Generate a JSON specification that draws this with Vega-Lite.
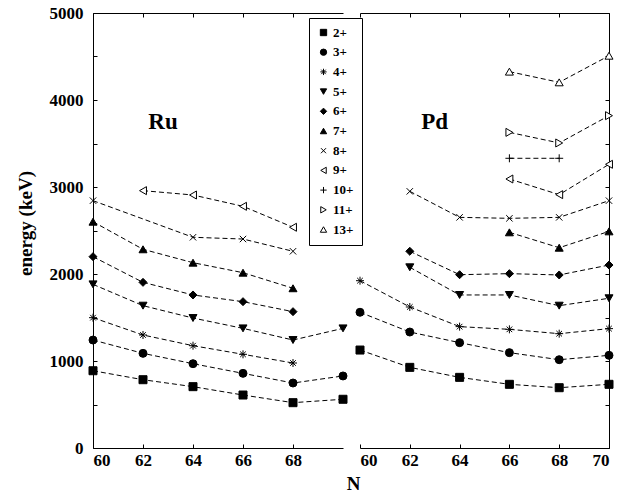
{
  "$schema": "https://vega.github.io/schema/vega-lite/v6.json",
  "padding": {"left": 16, "top": 4, "right": 5, "bottom": 5},
  "background": "white",
  "datasets": {
    "ru": [
      {"N": 60, "spin": "2+", "E": 888}, {"N": 62, "spin": "2+", "E": 785}, {"N": 64, "spin": "2+", "E": 705}, {"N": 66, "spin": "2+", "E": 609}, {"N": 68, "spin": "2+", "E": 521}, {"N": 70, "spin": "2+", "E": 560},
      {"N": 60, "spin": "3+", "E": 1241}, {"N": 62, "spin": "3+", "E": 1088}, {"N": 64, "spin": "3+", "E": 969}, {"N": 66, "spin": "3+", "E": 858}, {"N": 68, "spin": "3+", "E": 747}, {"N": 70, "spin": "3+", "E": 828},
      {"N": 60, "spin": "4+", "E": 1498}, {"N": 62, "spin": "4+", "E": 1299}, {"N": 64, "spin": "4+", "E": 1176}, {"N": 66, "spin": "4+", "E": 1077}, {"N": 68, "spin": "4+", "E": 977},
      {"N": 60, "spin": "5+", "E": 1881}, {"N": 62, "spin": "5+", "E": 1636}, {"N": 64, "spin": "5+", "E": 1494}, {"N": 66, "spin": "5+", "E": 1375}, {"N": 68, "spin": "5+", "E": 1241}, {"N": 70, "spin": "5+", "E": 1375},
      {"N": 60, "spin": "6+", "E": 2199}, {"N": 62, "spin": "6+", "E": 1904}, {"N": 64, "spin": "6+", "E": 1759}, {"N": 66, "spin": "6+", "E": 1682}, {"N": 68, "spin": "6+", "E": 1567},
      {"N": 60, "spin": "7+", "E": 2601}, {"N": 62, "spin": "7+", "E": 2284}, {"N": 64, "spin": "7+", "E": 2130}, {"N": 66, "spin": "7+", "E": 2015}, {"N": 68, "spin": "7+", "E": 1836},
      {"N": 60, "spin": "8+", "E": 2843}, {"N": 64, "spin": "8+", "E": 2422}, {"N": 66, "spin": "8+", "E": 2402}, {"N": 68, "spin": "8+", "E": 2261},
      {"N": 62, "spin": "9+", "E": 2958}, {"N": 64, "spin": "9+", "E": 2908}, {"N": 66, "spin": "9+", "E": 2778}, {"N": 68, "spin": "9+", "E": 2537}
    ],
    "pd": [
      {"N": 60, "spin": "2+", "E": 1126}, {"N": 62, "spin": "2+", "E": 927}, {"N": 64, "spin": "2+", "E": 812}, {"N": 66, "spin": "2+", "E": 732}, {"N": 68, "spin": "2+", "E": 693}, {"N": 70, "spin": "2+", "E": 732},
      {"N": 60, "spin": "3+", "E": 1560}, {"N": 62, "spin": "3+", "E": 1333}, {"N": 64, "spin": "3+", "E": 1211}, {"N": 66, "spin": "3+", "E": 1096}, {"N": 68, "spin": "3+", "E": 1015}, {"N": 70, "spin": "3+", "E": 1065},
      {"N": 60, "spin": "4+", "E": 1923}, {"N": 62, "spin": "4+", "E": 1621}, {"N": 64, "spin": "4+", "E": 1395}, {"N": 66, "spin": "4+", "E": 1364}, {"N": 68, "spin": "4+", "E": 1314}, {"N": 70, "spin": "4+", "E": 1372},
      {"N": 62, "spin": "5+", "E": 2077}, {"N": 64, "spin": "5+", "E": 1759}, {"N": 66, "spin": "5+", "E": 1759}, {"N": 68, "spin": "5+", "E": 1636}, {"N": 70, "spin": "5+", "E": 1721},
      {"N": 62, "spin": "6+", "E": 2261}, {"N": 64, "spin": "6+", "E": 1992}, {"N": 66, "spin": "6+", "E": 2004}, {"N": 68, "spin": "6+", "E": 1989}, {"N": 70, "spin": "6+", "E": 2103},
      {"N": 66, "spin": "7+", "E": 2479}, {"N": 68, "spin": "7+", "E": 2302}, {"N": 70, "spin": "7+", "E": 2490},
      {"N": 62, "spin": "8+", "E": 2950}, {"N": 64, "spin": "8+", "E": 2651}, {"N": 66, "spin": "8+", "E": 2640}, {"N": 68, "spin": "8+", "E": 2651}, {"N": 70, "spin": "8+", "E": 2843},
      {"N": 66, "spin": "9+", "E": 3092}, {"N": 68, "spin": "9+", "E": 2912}, {"N": 70, "spin": "9+", "E": 3261},
      {"N": 66, "spin": "10+", "E": 3330}, {"N": 68, "spin": "10+", "E": 3330},
      {"N": 66, "spin": "11+", "E": 3628}, {"N": 68, "spin": "11+", "E": 3506}, {"N": 70, "spin": "11+", "E": 3820},
      {"N": 66, "spin": "13+", "E": 4326}, {"N": 68, "spin": "13+", "E": 4203}, {"N": 70, "spin": "13+", "E": 4509}
    ]
  },
  "bounds": "flush",
  "spacing": 17,
  "resolve": {"legend": {"shape": "independent", "fill": "independent", "stroke": "independent"}},
  "hconcat": [
    {
      "width": 250,
      "height": 435,
      "resolve": {"axis": {"x": "independent", "y": "independent"}},
      "layer": [
        {
          "data": {"name": "ru"},
          "mark": {"type": "line", "color": "black", "strokeWidth": 1, "strokeDash": [5, 3]},
          "encoding": {
            "x": {"field": "N", "type": "quantitative", "scale": {"domain": [60, 70], "nice": false, "zero": false},
                  "axis": {"orient": "bottom", "values": [60, 62, 64, 66, 68], "format": "d", "title": null, "tickSize": -4, "labelPadding": 8}},
            "y": {"field": "E", "type": "quantitative", "scale": {"domain": [0, 5000], "nice": false},
                  "axis": {"orient": "left", "values": [0, 500, 1000, 1500, 2000, 2500, 3000, 3500, 4000, 4500, 5000], "format": "d",
                           "labelExpr": "datum.value % 1000 === 0 ? datum.label : ''", "title": "energy (keV)", "tickSize": -4, "labelPadding": 14, "titlePadding": 14, "titleY": 210}},
            "detail": {"field": "spin"}
          }
        },
        {
          "data": {"name": "ru"},
          "mark": {"type": "point", "filled": false, "strokeWidth": 1, "size": 64, "opacity": 1},
          "encoding": {
            "x": {"field": "N", "type": "quantitative", "scale": {"domain": [60, 70], "nice": false, "zero": false},
                  "axis": {"orient": "top", "values": [60, 62, 64, 66, 68], "labels": false, "title": null, "tickSize": -4}},
            "y": {"field": "E", "type": "quantitative", "scale": {"domain": [0, 5000], "nice": false}, "axis": null},
            "shape": {"field": "spin", "type": "nominal",
                      "scale": {"domain": ["2+", "3+", "4+", "5+", "6+", "7+", "8+", "9+", "10+", "11+", "13+"],
                                "range": ["square", "circle", "M-1,0L1,0M0,-1L0,1M-0.7,-0.7L0.7,0.7M-0.7,0.7L0.7,-0.7", "triangle-down", "diamond", "triangle-up", "M-0.8,-0.8L0.8,0.8M-0.8,0.8L0.8,-0.8", "triangle-left", "M-1,0L1,0M0,-1L0,1", "triangle-right", "triangle-up"]},
                      "legend": {"title": null, "orient": "none", "legendX": 216, "legendY": 5}},
            "fill": {"field": "spin", "type": "nominal",
                     "scale": {"domain": ["2+", "3+", "4+", "5+", "6+", "7+", "8+", "9+", "10+", "11+", "13+"],
                               "range": ["black", "black", "white", "black", "black", "black", "white", "white", "white", "white", "white"]},
                     "legend": {"title": null, "orient": "none", "legendX": 216, "legendY": 5}},
            "stroke": {"field": "spin", "type": "nominal",
                       "scale": {"domain": ["2+", "3+", "4+", "5+", "6+", "7+", "8+", "9+", "10+", "11+", "13+"],
                                 "range": ["black", "black", "black", "black", "black", "black", "black", "black", "black", "black", "black"]},
                       "legend": {"title": null, "orient": "none", "legendX": 216, "legendY": 5}}
          }
        },
        {
          "data": {"values": [{"N": 62.8, "E": 3750, "t": "Ru"}]},
          "mark": {"type": "text", "font": "Liberation Serif, Times New Roman, serif", "fontWeight": "bold", "fontSize": 23, "color": "black"},
          "encoding": {
            "x": {"field": "N", "type": "quantitative", "scale": {"domain": [60, 70], "nice": false, "zero": false}, "axis": null},
            "y": {"field": "E", "type": "quantitative", "scale": {"domain": [0, 5000], "nice": false}, "axis": null},
            "text": {"field": "t"}
          }
        }
      ]
    },
    {
      "width": 249,
      "height": 435,
      "resolve": {"axis": {"x": "independent", "y": "independent"}},
      "layer": [
        {
          "data": {"name": "pd"},
          "mark": {"type": "line", "color": "black", "strokeWidth": 1, "strokeDash": [5, 3]},
          "encoding": {
            "x": {"field": "N", "type": "quantitative", "scale": {"domain": [60, 70], "nice": false, "zero": false},
                  "axis": {"orient": "bottom", "values": [60, 62, 64, 66, 68, 70], "format": "d", "title": "N", "tickSize": -4, "labelPadding": 8, "titleX": -7, "titleY": 26}},
            "y": {"field": "E", "type": "quantitative", "scale": {"domain": [0, 5000], "nice": false},
                  "axis": {"orient": "right", "values": [0, 500, 1000, 1500, 2000, 2500, 3000, 3500, 4000, 4500, 5000], "labels": false, "title": null, "tickSize": -4}},
            "detail": {"field": "spin"}
          }
        },
        {
          "data": {"name": "pd"},
          "mark": {"type": "point", "filled": false, "strokeWidth": 1, "size": 64, "opacity": 1},
          "encoding": {
            "x": {"field": "N", "type": "quantitative", "scale": {"domain": [60, 70], "nice": false, "zero": false},
                  "axis": {"orient": "top", "values": [60, 62, 64, 66, 68, 70], "labels": false, "title": null, "tickSize": -4}},
            "y": {"field": "E", "type": "quantitative", "scale": {"domain": [0, 5000], "nice": false}, "axis": null},
            "shape": {"field": "spin", "type": "nominal",
                      "scale": {"domain": ["2+", "3+", "4+", "5+", "6+", "7+", "8+", "9+", "10+", "11+", "13+"],
                                "range": ["square", "circle", "M-1,0L1,0M0,-1L0,1M-0.7,-0.7L0.7,0.7M-0.7,0.7L0.7,-0.7", "triangle-down", "diamond", "triangle-up", "M-0.8,-0.8L0.8,0.8M-0.8,0.8L0.8,-0.8", "triangle-left", "M-1,0L1,0M0,-1L0,1", "triangle-right", "triangle-up"]},
                      "legend": null},
            "fill": {"field": "spin", "type": "nominal",
                     "scale": {"domain": ["2+", "3+", "4+", "5+", "6+", "7+", "8+", "9+", "10+", "11+", "13+"],
                               "range": ["black", "black", "white", "black", "black", "black", "white", "white", "white", "white", "white"]},
                     "legend": null},
            "stroke": {"field": "spin", "type": "nominal",
                       "scale": {"domain": ["2+", "3+", "4+", "5+", "6+", "7+", "8+", "9+", "10+", "11+", "13+"],
                                 "range": ["black", "black", "black", "black", "black", "black", "black", "black", "black", "black", "black"]},
                       "legend": null}
          }
        },
        {
          "data": {"values": [{"N": 63.0, "E": 3750, "t": "Pd"}]},
          "mark": {"type": "text", "font": "Liberation Serif, Times New Roman, serif", "fontWeight": "bold", "fontSize": 23, "color": "black"},
          "encoding": {
            "x": {"field": "N", "type": "quantitative", "scale": {"domain": [60, 70], "nice": false, "zero": false}, "axis": null},
            "y": {"field": "E", "type": "quantitative", "scale": {"domain": [0, 5000], "nice": false}, "axis": null},
            "text": {"field": "t"}
          }
        }
      ]
    }
  ],
  "config": {
    "view": {"stroke": null},
    "axis": {
      "grid": false,
      "domainColor": "black",
      "domainWidth": 1,
      "tickColor": "black",
      "tickWidth": 1,
      "labelColor": "black",
      "labelFont": "Liberation Serif, Times New Roman, serif",
      "labelFontWeight": "bold",
      "labelFontSize": 17,
      "titleColor": "black",
      "titleFont": "Liberation Serif, Times New Roman, serif",
      "titleFontWeight": "bold",
      "titleFontSize": 19
    },
    "legend": {
      "strokeColor": "black",
      "fillColor": "white",
      "cornerRadius": 0,
      "padding": 8,
      "labelFont": "Liberation Serif, Times New Roman, serif",
      "labelFontWeight": "bold",
      "labelFontSize": 13,
      "labelColor": "black",
      "symbolSize": 40,
      "symbolStrokeWidth": 1,
      "rowPadding": 5.7,
      "labelOffset": 3
    }
  }
}
